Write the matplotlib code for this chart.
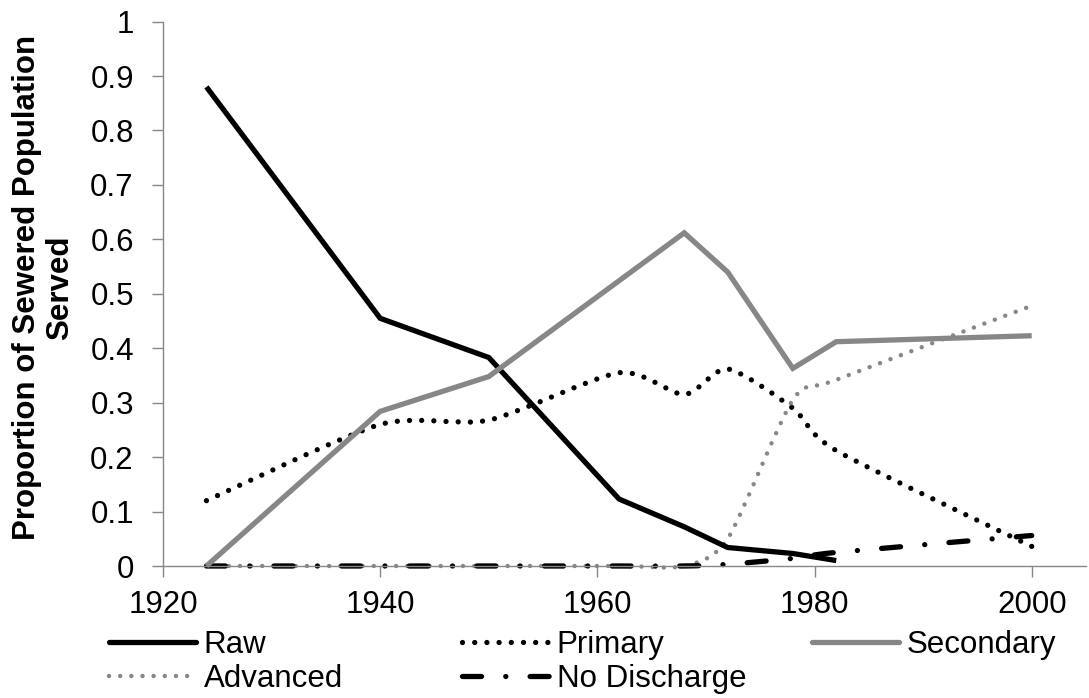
import matplotlib
matplotlib.use("Agg")
import matplotlib.pyplot as plt
from matplotlib.path import Path
from matplotlib.patches import PathPatch
from matplotlib.lines import Line2D
import numpy as np

plt.rcParams['font.family'] = ['Liberation Sans', 'DejaVu Sans']

# ---- data ----
years = [1924, 1940, 1950, 1962, 1968, 1972, 1978, 1982, 2000]
raw_years = [1924, 1940, 1950, 1962, 1968, 1972, 1978, 1982]
raw = [0.88, 0.455, 0.383, 0.123, 0.072, 0.034, 0.023, 0.01]
primary = [0.12, 0.26, 0.268, 0.355, 0.315, 0.362, 0.29, 0.212, 0.036]
secondary = [0.0, 0.284, 0.348, 0.524, 0.612, 0.540, 0.363, 0.412, 0.423]
advanced = [0.0, 0.0, 0.0, 0.0, 0.0, 0.05, 0.305, 0.342, 0.478]
no_discharge = [0.0, 0.0, 0.0, 0.0, 0.0, 0.003, 0.014, 0.025, 0.056]

x_ticks = [1920, 1940, 1960, 1980, 2000]
y_ticks = [0, 0.1, 0.2, 0.3, 0.4, 0.5, 0.6, 0.7, 0.8, 0.9, 1.0]
y_tick_labels = ['0', '0.1', '0.2', '0.3', '0.4', '0.5', '0.6', '0.7', '0.8', '0.9', '1']
labels = ['Raw', 'Primary', 'Secondary', 'Advanced', 'No Discharge']
ylabel = 'Proportion of Sewered Population\nServed'

GRAY = '#878787'
LW = 3.8
FS = 22.5

styles = {
    'Raw': dict(color='black', linestyle='-', smooth=False),
    'Primary': dict(color='black', linestyle=(0, (0.01, 2.3)), smooth=True),
    'Secondary': dict(color=GRAY, linestyle='-', smooth=False),
    'Advanced': dict(color=GRAY, linestyle=(0, (0.01, 2.5)), smooth=True, lw=3.2),
    'No Discharge': dict(color='black', linestyle=(0, (3.6, 4.6, 0.01, 4.6)), smooth=True),
}


def smooth_path(xs, ys, k=8.0):
    """Cubic Bezier path through the data points (spreadsheet-style smoothing)."""
    pts = np.column_stack([xs, ys]).astype(float)
    n = len(pts)
    verts = [pts[0]]
    codes = [Path.MOVETO]
    for i in range(n - 1):
        p0 = pts[i - 1] if i > 0 else pts[i]
        p1 = pts[i]
        p2 = pts[i + 1]
        p3 = pts[i + 2] if i + 2 < n else pts[i + 1]
        c1 = p1 + (p2 - p0) / k
        c2 = p2 - (p3 - p1) / k
        verts += [c1, c2, p2]
        codes += [Path.CURVE4] * 3
    return Path(verts, codes)


fig = plt.figure(figsize=(10.89, 6.98), dpi=100)
ax = fig.add_axes([163 / 1089, 1 - 566 / 698, (1086 - 163) / 1089, (566 - 21.6) / 698])

series = [(raw_years, raw), (years, primary), (years, secondary), (years, advanced), (years, no_discharge)]
handles = []
for (xs, ys), lab in zip(series, labels):
    st = styles[lab]
    lw = st.get('lw', LW)
    if st['smooth']:
        patch = PathPatch(smooth_path(xs, ys), fill=False, edgecolor=st['color'], lw=lw,
                          linestyle=st['linestyle'], capstyle='round', joinstyle='round',
                          transform=ax.transData, clip_on=False)
        ax.add_patch(patch)
    else:
        ax.plot(xs, ys, color=st['color'], lw=lw, linestyle=st['linestyle'],
                solid_joinstyle='miter', solid_capstyle='butt', clip_on=False)
    handles.append(Line2D([], [], color=st['color'], lw=lw, linestyle=st['linestyle'],
                          dash_capstyle='round', solid_capstyle='round'))

ax.set_xlim(1920, 2005)
ax.set_ylim(0, 1)
ax.set_xticks(x_ticks)
ax.set_yticks(y_ticks)
ax.set_yticklabels(y_tick_labels)
for s in ['top', 'right']:
    ax.spines[s].set_visible(False)
for s in ['left', 'bottom']:
    ax.spines[s].set_color(GRAY)
    ax.spines[s].set_linewidth(1.0)
ax.tick_params(axis='both', colors=GRAY, labelcolor='black', labelsize=FS, width=1.0, length=8, direction='out')
ax.tick_params(axis='y', pad=13)
ax.tick_params(axis='x', pad=9)

fig.text(0.040, 0.588, ylabel, rotation=90, ha='center', va='center', multialignment='center',
         fontsize=FS, fontweight='bold', linespacing=1.1)

# legend entries placed individually (spreadsheet layout)
positions = {
    'Raw': (109, 645), 'Primary': (462, 645), 'Secondary': (812, 645),
    'Advanced': (109, 679), 'No Discharge': (462, 679),
}
for h, lab in zip(handles, labels):
    px, py = positions[lab]
    fig.legend([h], [lab], loc='center left', bbox_to_anchor=(px / 1089, 1 - py / 698),
               frameon=False, borderpad=0, borderaxespad=0, handlelength=2.78,
               handletextpad=0.25, fontsize=FS)

fig.savefig('out.png', dpi=100)
